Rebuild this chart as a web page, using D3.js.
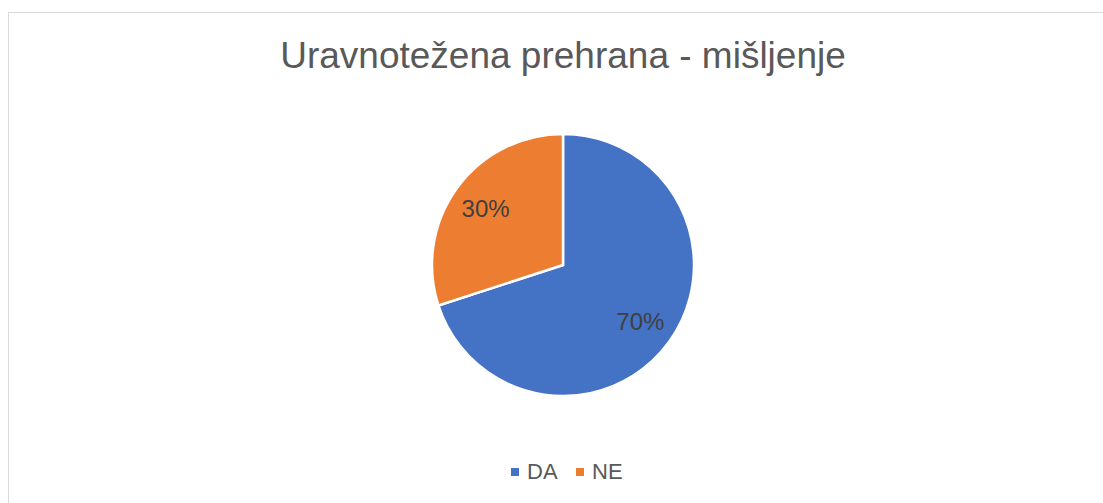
<!DOCTYPE html>
<meta charset="utf-8">
<style>

body {
  margin: 0;
  background: #fff;
  font-family: "Liberation Sans", Arial, sans-serif;
}

svg {
  display: block;
}

.slice {
  stroke: #fff;
  stroke-width: 2.5;
}

.label {
  fill: #404040;
  font-size: 24px;
}

.title {
  fill: #595959;
  font-size: 37px;
}

.legend text {
  fill: #595959;
  font-size: 22px;
}

</style>
<body>
<script src="https://d3js.org/d3.v7.min.js"></script>
<script>

var titleText = "Uravnotežena prehrana - mišljenje";
var categories = ["DA", "NE"];
var values = [70, 30];
var colors = ["#4472c4", "#ed7d31"];

var width = 1103,
    height = 503;

var svg = d3.select("body").append("svg")
    .attr("width", width)
    .attr("height", height);

// chart area frame, runs off the right and bottom edges
svg.append("rect")
    .attr("x", 8.5)
    .attr("y", 12.5)
    .attr("width", 1200)
    .attr("height", 600)
    .attr("fill", "#fff")
    .attr("stroke", "#d9d9d9")
    .attr("stroke-width", 1);

svg.append("text")
    .attr("class", "title")
    .attr("x", 563)
    .attr("y", 68)
    .attr("text-anchor", "middle")
    .text(titleText);

var data = categories.map(function(c, i) {
  return {name: c, value: values[i], color: colors[i]};
});

var radius = 131;

var pie = d3.pie()
    .sort(null)
    .value(function(d) { return d.value; });

var arc = d3.arc()
    .innerRadius(0)
    .outerRadius(radius);

var labelArc = d3.arc()
    .innerRadius(radius * 0.73)
    .outerRadius(radius * 0.73);

var g = svg.append("g")
    .attr("transform", "translate(563,265)");

var arcs = pie(data);

g.selectAll(".slice")
    .data(arcs)
  .enter().append("path")
    .attr("class", "slice")
    .attr("fill", function(d) { return d.data.color; })
    .attr("d", arc);

g.selectAll(".label")
    .data(arcs)
  .enter().append("text")
    .attr("class", "label")
    .attr("text-anchor", "middle")
    .attr("dy", "0.35em")
    .attr("transform", function(d) { return "translate(" + labelArc.centroid(d) + ")"; })
    .text(function(d) { return d.data.value + "%"; });

// legend
var legend = svg.append("g")
    .attr("class", "legend")
    .attr("transform", "translate(511,479)");

var legendX = [0, 65];

var item = legend.selectAll("g")
    .data(data)
  .enter().append("g")
    .attr("transform", function(d, i) { return "translate(" + legendX[i] + ",0)"; });

item.append("rect")
    .attr("x", 0)
    .attr("y", -11)
    .attr("width", 8)
    .attr("height", 8)
    .attr("fill", function(d) { return d.color; });

item.append("text")
    .attr("x", 16)
    .attr("y", 0)
    .text(function(d) { return d.name; });

</script>
